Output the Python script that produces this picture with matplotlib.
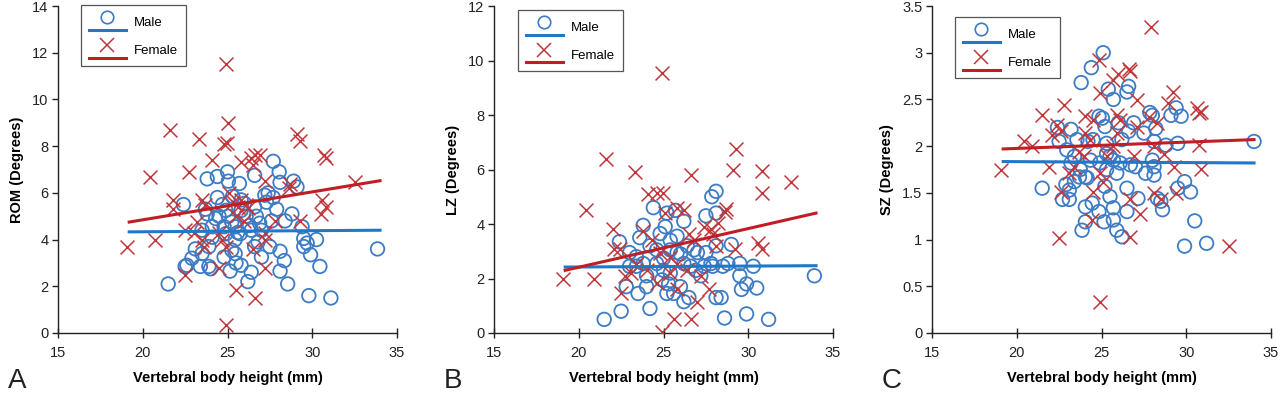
import matplotlib
matplotlib.use("Agg")
import matplotlib.pyplot as plt
from matplotlib.lines import Line2D
from matplotlib.legend_handler import HandlerBase

plt.rcParams['font.family'] = ['Liberation Sans', 'DejaVu Sans']

# ---------------- data ----------------
# Panel A : ROM
rom_male_x = [27.7, 28.05, 28.1, 28.9, 29.1, 25.0, 24.4, 23.8, 25.05, 26.6, 22.4, 24.4, 25.7, 27.4, 27.7,
              27.9, 28.8, 23.7, 23.8, 24.7, 24.9, 25.05, 25.25, 25.8, 26.1, 26.6, 26.7, 26.9, 27.6, 28.4,
              29.4, 24.1, 25.45, 26.4, 27.0, 29.5, 29.7, 30.25, 29.5, 29.9, 33.85, 23.1, 23.9, 23.5, 22.9,
              22.5, 22.6, 23.4, 23.9, 24.0, 24.8, 25.25, 25.45, 25.5, 25.8, 25.15, 26.6, 26.4, 27.0, 27.5,
              28.1, 28.35, 28.1, 26.2, 28.55, 21.5, 30.45, 29.8, 31.1, 25.8, 24.8, 24.9, 24.1, 25.45, 25.75,
              23.5, 25.3, 26.0, 24.5, 26.3, 27.3, 25.6, 24.3, 26.8, 27.2]
rom_male_y = [7.35, 6.9, 6.45, 6.5, 6.25, 6.9, 6.7, 6.6, 6.5, 6.75, 5.5, 5.8, 6.4, 6.0, 5.8,
              5.3, 5.1, 5.3, 5.1, 5.5, 5.25, 5.0, 4.75, 5.25, 5.0, 5.4, 5.0, 4.7, 4.8, 4.8,
              4.55, 4.55, 4.55, 4.4, 4.4, 4.05, 3.85, 4.0, 3.7, 3.35, 3.6, 3.6, 3.7, 3.4, 3.2,
              2.85, 2.9, 2.85, 2.85, 2.75, 3.25, 3.55, 3.4, 3.0, 2.9, 2.65, 3.7, 2.6, 3.25, 3.7,
              3.5, 3.1, 2.65, 2.2, 2.1, 2.1, 2.85, 1.6, 1.5, 5.7, 4.55, 4.25, 4.1, 4.0, 4.25,
              4.4, 5.85, 5.55, 5.0, 4.6, 5.6, 4.3, 4.9, 3.9, 5.9]
rom_female_x = [24.9, 25.0, 21.6, 23.3, 24.8, 24.95, 29.1, 29.3, 30.7, 30.8, 24.1, 20.45, 22.7, 25.8, 26.4,
                26.6, 26.9, 26.5, 27.2, 28.7, 32.5, 21.8, 21.8, 23.5, 23.7, 25.3, 25.6, 25.8, 26.1, 26.2,
                30.6, 30.8, 30.5, 20.7, 19.1, 22.5, 23.0, 23.5, 23.6, 24.5, 24.7, 24.9, 25.5, 26.0, 27.2,
                27.8, 29.3, 27.2, 26.5, 22.5, 24.5, 27.2, 25.5, 26.6, 24.9, 28.6, 23.2, 25.1]
rom_female_y = [11.5, 9.0, 8.7, 8.3, 8.1, 8.15, 8.5, 8.2, 7.6, 7.5, 7.4, 6.7, 6.9, 7.3, 7.5,
                7.6, 7.6, 7.2, 6.5, 6.4, 6.45, 5.7, 5.3, 5.7, 5.5, 5.6, 5.4, 5.7, 5.5, 5.35,
                5.7, 5.4, 5.1, 4.0, 3.7, 4.4, 4.3, 4.0, 3.7, 4.3, 4.0, 3.7, 5.0, 4.8, 4.3,
                4.8, 4.8, 4.0, 3.6, 2.5, 2.8, 2.8, 1.85, 1.5, 0.35, 6.2, 4.75, 6.0]

# Panel B : LZ
lz_male_x = [28.1, 27.85, 24.4, 25.2, 25.7, 26.2, 27.5, 28.1, 23.8, 23.6, 22.4, 25.1, 25.8, 26.8, 27.0,
             27.5, 28.1, 29.0, 28.8, 29.5, 30.3, 23.0, 23.4, 24.2, 24.6, 25.4, 25.8, 23.8, 24.0, 24.6,
             25.0, 25.4, 26.2, 26.6, 27.4, 27.8, 27.9, 28.5, 29.5, 29.6, 29.9, 30.5, 33.9, 23.5, 24.0,
             22.8, 25.2, 25.6, 26.0, 26.2, 26.5, 28.1, 28.4, 24.2, 22.5, 21.5, 28.6, 29.9, 31.2, 27.2,
             24.8, 25.4, 26.4, 23.0, 23.4, 25.0, 26.0, 24.9, 25.3, 26.9]
lz_male_y = [5.2, 5.0, 4.6, 4.4, 4.5, 4.1, 4.3, 4.4, 3.95, 3.5, 3.35, 3.9, 3.55, 3.05, 2.95,
             2.95, 3.2, 3.25, 2.55, 2.55, 2.45, 2.45, 2.45, 3.2, 3.05, 3.05, 2.95, 2.55, 2.1, 2.55,
             2.3, 2.2, 2.55, 2.45, 2.45, 2.55, 2.45, 2.45, 2.1, 1.6, 1.8, 1.65, 2.1, 1.45, 1.7,
             1.7, 1.45, 1.45, 1.7, 1.15, 1.3, 1.3, 1.3, 0.9, 0.8, 0.5, 0.55, 0.7, 0.5, 2.1,
             3.65, 3.4, 3.2, 2.95, 2.8, 2.75, 2.9, 1.95, 1.8, 2.3]
lz_female_x = [24.9, 29.3, 21.6, 23.3, 26.6, 29.1, 30.8, 32.5, 30.8, 24.1, 24.6, 24.95, 20.45, 22.0, 22.1,
               22.45, 19.1, 20.9, 22.5, 22.7, 23.8, 24.3, 25.1, 25.8, 26.2, 26.5, 26.8, 27.4, 27.8, 27.9,
               28.2, 28.6, 28.7, 28.1, 29.2, 30.6, 30.8, 25.4, 25.8, 26.4, 27.2, 27.7, 27.0, 25.6, 26.6,
               24.9, 24.6, 23.4, 24.0, 25.4, 25.8, 23.1, 24.8]
lz_female_y = [9.55, 6.75, 6.4, 5.9, 5.8, 6.0, 5.95, 5.55, 5.15, 5.1, 5.15, 5.15, 4.5, 3.8, 3.1,
               3.1, 2.0, 2.0, 1.45, 2.1, 3.75, 3.4, 4.4, 4.6, 4.5, 3.65, 3.4, 3.9, 3.8, 3.65,
               4.05, 4.45, 4.55, 3.2, 3.1, 3.3, 3.1, 2.8, 2.55, 2.3, 2.1, 1.6, 1.15, 0.5, 0.5,
               0.05, 1.85, 2.55, 2.3, 2.2, 1.6, 2.2, 2.95]

# Panel C : SZ
sz_male_x = [25.1, 24.4, 23.8, 25.4, 25.7, 26.6, 26.5, 27.85, 28.0, 29.4, 29.1, 29.7, 22.4, 23.2, 24.85,
             25.05, 25.2, 26.0, 26.6, 26.9, 27.5, 28.2, 34.0, 22.5, 23.55, 24.2, 24.5, 25.3, 26.2, 28.1,
             28.8, 29.5, 22.95, 23.4, 25.3, 25.5, 25.7, 26.1, 26.7, 27.0, 28.0, 28.1, 23.2, 23.75, 24.05,
             24.35, 24.9, 25.3, 25.9, 27.6, 28.1, 23.4, 23.7, 22.9, 23.1, 24.15, 25.2, 25.5, 26.5, 27.15,
             21.5, 22.7, 23.1, 29.9, 29.5, 30.25, 24.05, 24.45, 25.7, 26.5, 28.3, 28.5, 28.6, 24.85, 24.05,
             25.15, 25.7, 23.85, 25.9, 26.2, 30.5, 29.9, 31.2]
sz_male_y = [3.0, 2.84, 2.68, 2.61, 2.5, 2.64, 2.58, 2.36, 2.33, 2.41, 2.33, 2.32, 2.2, 2.18, 2.32,
             2.3, 2.21, 2.25, 2.16, 2.25, 2.14, 2.19, 2.05, 2.05, 2.07, 2.05, 2.07, 2.03, 2.07, 2.05,
             2.01, 2.03, 1.96, 1.89, 1.92, 1.89, 1.85, 1.82, 1.8, 1.78, 1.85, 1.78, 1.82, 1.75, 1.67,
             1.85, 1.82, 1.75, 1.71, 1.71, 1.69, 1.62, 1.67, 1.59, 1.53, 1.66, 1.57, 1.46, 1.55, 1.44,
             1.55, 1.43, 1.43, 1.62, 1.55, 1.51, 1.35, 1.39, 1.34, 1.3, 1.44, 1.41, 1.32, 1.3, 1.19,
             1.19, 1.21, 1.1, 1.1, 1.03, 1.2, 0.93, 0.96]
sz_female_x = [27.9, 24.85, 26.0, 25.7, 26.6, 26.7, 24.9, 27.1, 29.2, 22.8, 21.5, 24.0, 24.5, 25.9, 26.1,
               27.8, 28.3, 28.9, 30.65, 30.75, 30.85, 20.4, 20.9, 22.4, 22.6, 22.1, 19.1, 21.9, 23.65, 23.95,
               24.9, 25.1, 25.3, 25.7, 26.9, 28.1, 28.7, 29.3, 30.75, 30.85, 22.6, 24.5, 26.7, 28.1, 28.5,
               29.4, 24.45, 27.3, 26.7, 22.5, 32.5, 24.9, 23.4, 23.1, 25.9, 27.1, 24.05, 24.35]
sz_female_y = [3.28, 2.92, 2.77, 2.71, 2.83, 2.8, 2.57, 2.49, 2.58, 2.44, 2.33, 2.32, 2.28, 2.33, 2.28,
               2.31, 2.25, 2.46, 2.41, 2.35, 2.37, 2.05, 2.0, 2.23, 2.16, 2.12, 1.75, 1.78, 1.94, 1.89,
               1.71, 1.62, 1.89, 2.0, 1.89, 2.0, 1.92, 1.78, 2.01, 1.76, 1.51, 1.51, 1.43, 1.5, 1.43,
               1.5, 1.21, 1.27, 1.03, 1.02, 0.93, 0.33, 1.78, 1.71, 2.14, 2.21, 2.14, 2.07]

# regression lines (x range and fitted y at both ends)
fit_x = [19.2, 34.0]
rom_male_fit = [4.33, 4.40]
rom_female_fit = [4.75, 6.52]
lz_male_fit = [2.42, 2.47]
lz_female_fit = [2.30, 4.40]
sz_male_fit = [1.835, 1.82]
sz_female_fit = [1.97, 2.07]

x_ticks = [15, 20, 25, 30, 35]
panel_letters = ['A', 'B', 'C']
y_labels = ['ROM (Degrees)', 'LZ (Degrees)', 'SZ (Degrees)']
x_label = 'Vertebral body height (mm)'
legend_labels = ['Male', 'Female']

BLUE_M = '#3d7cc4'
BLUE_L = '#1f78c8'
RED_M = '#c0363b'
RED_L = '#c01e24'


class MarkerAboveLine(HandlerBase):
    def create_artists(self, legend, orig_handle, xdescent, ydescent, width, height, fontsize, trans):
        y0 = -ydescent
        line = Line2D([-xdescent, -xdescent + width], [y0 + 0.05 * height] * 2,
                      color=orig_handle.get_color(), lw=orig_handle.get_linewidth())
        mk = Line2D([-xdescent + width / 2], [y0 + 0.75 * height], linestyle='none',
                    marker=orig_handle.get_marker(), markersize=orig_handle.get_markersize(),
                    markerfacecolor='none', markeredgecolor=orig_handle.get_markeredgecolor(),
                    markeredgewidth=orig_handle.get_markeredgewidth())
        line.set_transform(trans)
        mk.set_transform(trans)
        return [line, mk]


fig = plt.figure(figsize=(12.8, 3.95), dpi=100)
lefts = [58, 494, 932]
panels = [
    (rom_male_x, rom_male_y, rom_female_x, rom_female_y, rom_male_fit, rom_female_fit, 14, 2, (0.068, 1.003)),
    (lz_male_x, lz_male_y, lz_female_x, lz_female_y, lz_male_fit, lz_female_fit, 12, 2, (0.071, 0.988)),
    (sz_male_x, sz_male_y, sz_female_x, sz_female_y, sz_male_fit, sz_female_fit, 3.5, 0.5, (0.068, 0.966)),
]
for i, (mx, my, fx, fy, mfit, ffit, ymax, ystep, lpos) in enumerate(panels):
    ax = fig.add_axes([lefts[i] / 1280, 1 - 333 / 395, 339 / 1280, 327 / 395])
    ax.scatter(mx, my, s=95, facecolors='none', edgecolors=BLUE_M, linewidths=1.3, marker='o', zorder=2)
    ax.scatter(fx, fy, s=100, color=RED_M, linewidths=1.1, marker='x', zorder=3)
    ax.plot(fit_x, mfit, color=BLUE_L, lw=2.2, zorder=4)
    ax.plot(fit_x, ffit, color=RED_L, lw=2.2, zorder=5)
    ax.set_xlim(15, 35)
    ax.set_ylim(0, ymax)
    ax.set_xticks(x_ticks)
    yt = [round(k * ystep, 2) for k in range(int(round(ymax / ystep)) + 1)]
    ax.set_yticks(yt)
    ax.set_yticklabels([('%g' % v) for v in yt])
    for s in ['top', 'right']:
        ax.spines[s].set_visible(False)
    for s in ['left', 'bottom']:
        ax.spines[s].set_linewidth(1.0)
        ax.spines[s].set_color('#222222')
    ax.tick_params(axis='x', direction='inout', length=7, width=1, labelsize=10.5, pad=6, colors='#222222')
    ax.tick_params(axis='y', direction='out', length=4, width=1, labelsize=10.5, pad=3, colors='#222222')
    ax.set_xlabel(x_label, fontsize=10.5, fontweight='bold', labelpad=8)
    ax.set_ylabel(y_labels[i], fontsize=10.5, fontweight='bold', labelpad=6)
    h_m = Line2D([], [], color=BLUE_L, lw=2.2, marker='o', markersize=9,
                 markeredgecolor=BLUE_M, markeredgewidth=1.2)
    h_f = Line2D([], [], color=RED_L, lw=2.2, marker='x', markersize=10,
                 markeredgecolor=RED_M, markeredgewidth=1.1)
    leg = ax.legend([h_m, h_f], legend_labels, loc='upper left', bbox_to_anchor=lpos,
                    handler_map={Line2D: MarkerAboveLine()}, fontsize=9.5, frameon=True,
                    fancybox=False, edgecolor='#555555', framealpha=1, handlelength=2.8,
                    handleheight=1.7, labelspacing=0.75, borderpad=0.6, handletextpad=0.6,
                    borderaxespad=0)
    leg.get_frame().set_linewidth(0.9)
    fig.text((lefts[i] - 50) / 1280, 1 - 388 / 395, panel_letters[i], fontsize=20, ha='left',
             va='baseline', color='#222222')

fig.savefig('out.png', dpi=100)
